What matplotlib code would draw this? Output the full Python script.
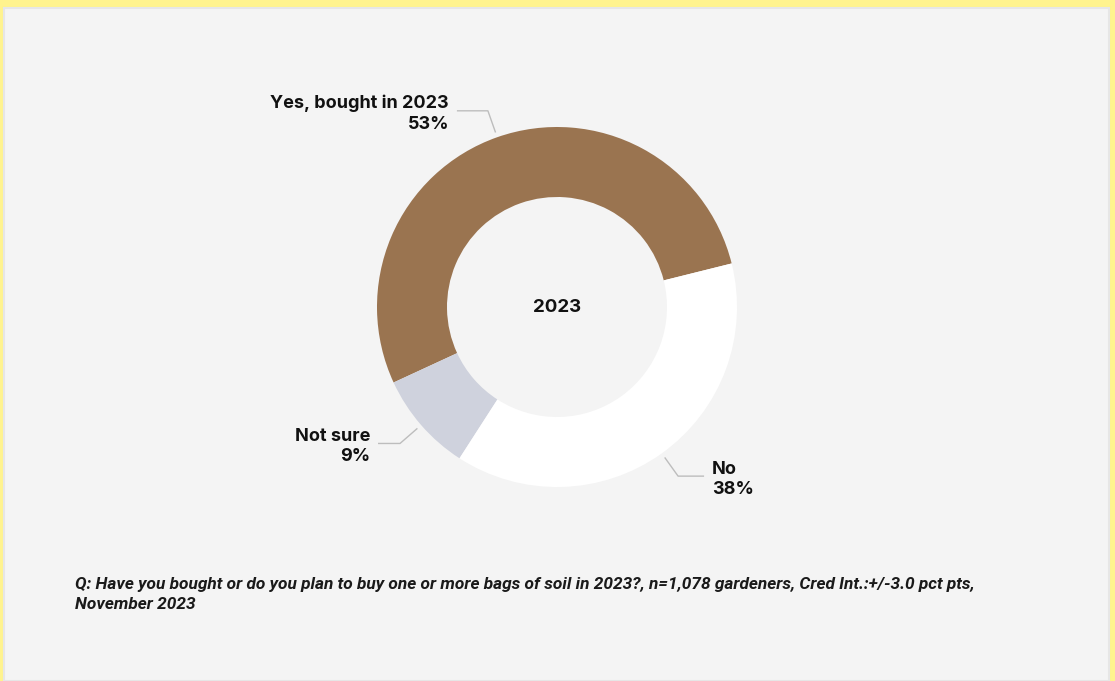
import numpy as np
import matplotlib
matplotlib.use("Agg")
import matplotlib.pyplot as plt
from matplotlib.patches import Rectangle

# ============================== Data
labels = ["Yes, bought in 2023", "Not sure", "No"]
values = [53, 9, 38]
colors = ["#9a7450", "#cfd2dd", "#ffffff"]
center_label = "2023"
note = ("Q: Have you bought or do you plan to buy one or more bags of soil in 2023?, "
        "n=1,078 gardeners, Cred Int.:+/-3.0 pct pts,\nNovember 2023")

# ============================== Layout (pixels)
W, H = 1115, 681
CX, CY = 557, 307          # donut center (px from top-left)
R_OUT, R_IN = 180, 110
START = 14                 # deg
LEADER_LEN = [31, 22, 26]  # horizontal part of each leader line
LABEL_FONT = ["Inter", "DejaVu Sans"]
NOTE_FONT = ["Roboto", "DejaVu Sans"]


def fy(y):
    # pixel y (from top) -> data y (from bottom)
    return H - y


fig = plt.figure(figsize=(W / 100, H / 100), dpi=100)
fig.patch.set_facecolor("#fff38e")
ax = fig.add_axes([0, 0, 1, 1])
ax.set_xlim(0, W)
ax.set_ylim(0, H)
ax.set_aspect("equal")
ax.axis("off")

# panel
ax.add_patch(Rectangle((4, 0), 1105, fy(8), facecolor="#f4f4f4",
                       edgecolor="#e6e6e6", linewidth=1.5, zorder=0))

wedges, _ = ax.pie(values, colors=colors, startangle=START, counterclock=True,
                   radius=R_OUT, center=(CX, fy(CY)),
                   wedgeprops=dict(width=R_OUT - R_IN, linewidth=0))
ax.set_xlim(0, W)
ax.set_ylim(0, H)

ax.text(CX, fy(CY), center_label, ha="center", va="center", fontsize=13.5,
        fontweight="bold", family=LABEL_FONT, color="#111111")

# leader lines + labels
for w, lab, v, ln in zip(wedges, labels, values, LEADER_LEN):
    mid = np.deg2rad((w.theta1 + w.theta2) / 2)
    c, s = np.cos(mid), np.sin(mid)
    x0, y0 = CX + 185 * c, fy(CY) + 185 * s
    x1, y1 = CX + 208 * c, fy(CY) + 208 * s
    side = 1 if c > 0 else -1
    x2 = x1 + side * ln
    ax.plot([x0, x1, x2], [y0, y1, y1], color="#bdbdbd", lw=1, solid_capstyle="butt")
    ax.text(x2 + side * 8, y1 - 3, f"{lab}\n{v}%", ha="left" if side > 0 else "right",
            va="center", ma="left" if side > 0 else "right", fontsize=13,
            fontweight="bold", family=LABEL_FONT, color="#111111", linespacing=1.25)

ax.text(75, fy(577), note, ha="left", va="top", fontsize=12.4, style="italic",
        fontweight="bold", family=NOTE_FONT, color="#1a1a1a", linespacing=1.4)

fig.savefig("out.png", dpi=100, facecolor=fig.get_facecolor())
